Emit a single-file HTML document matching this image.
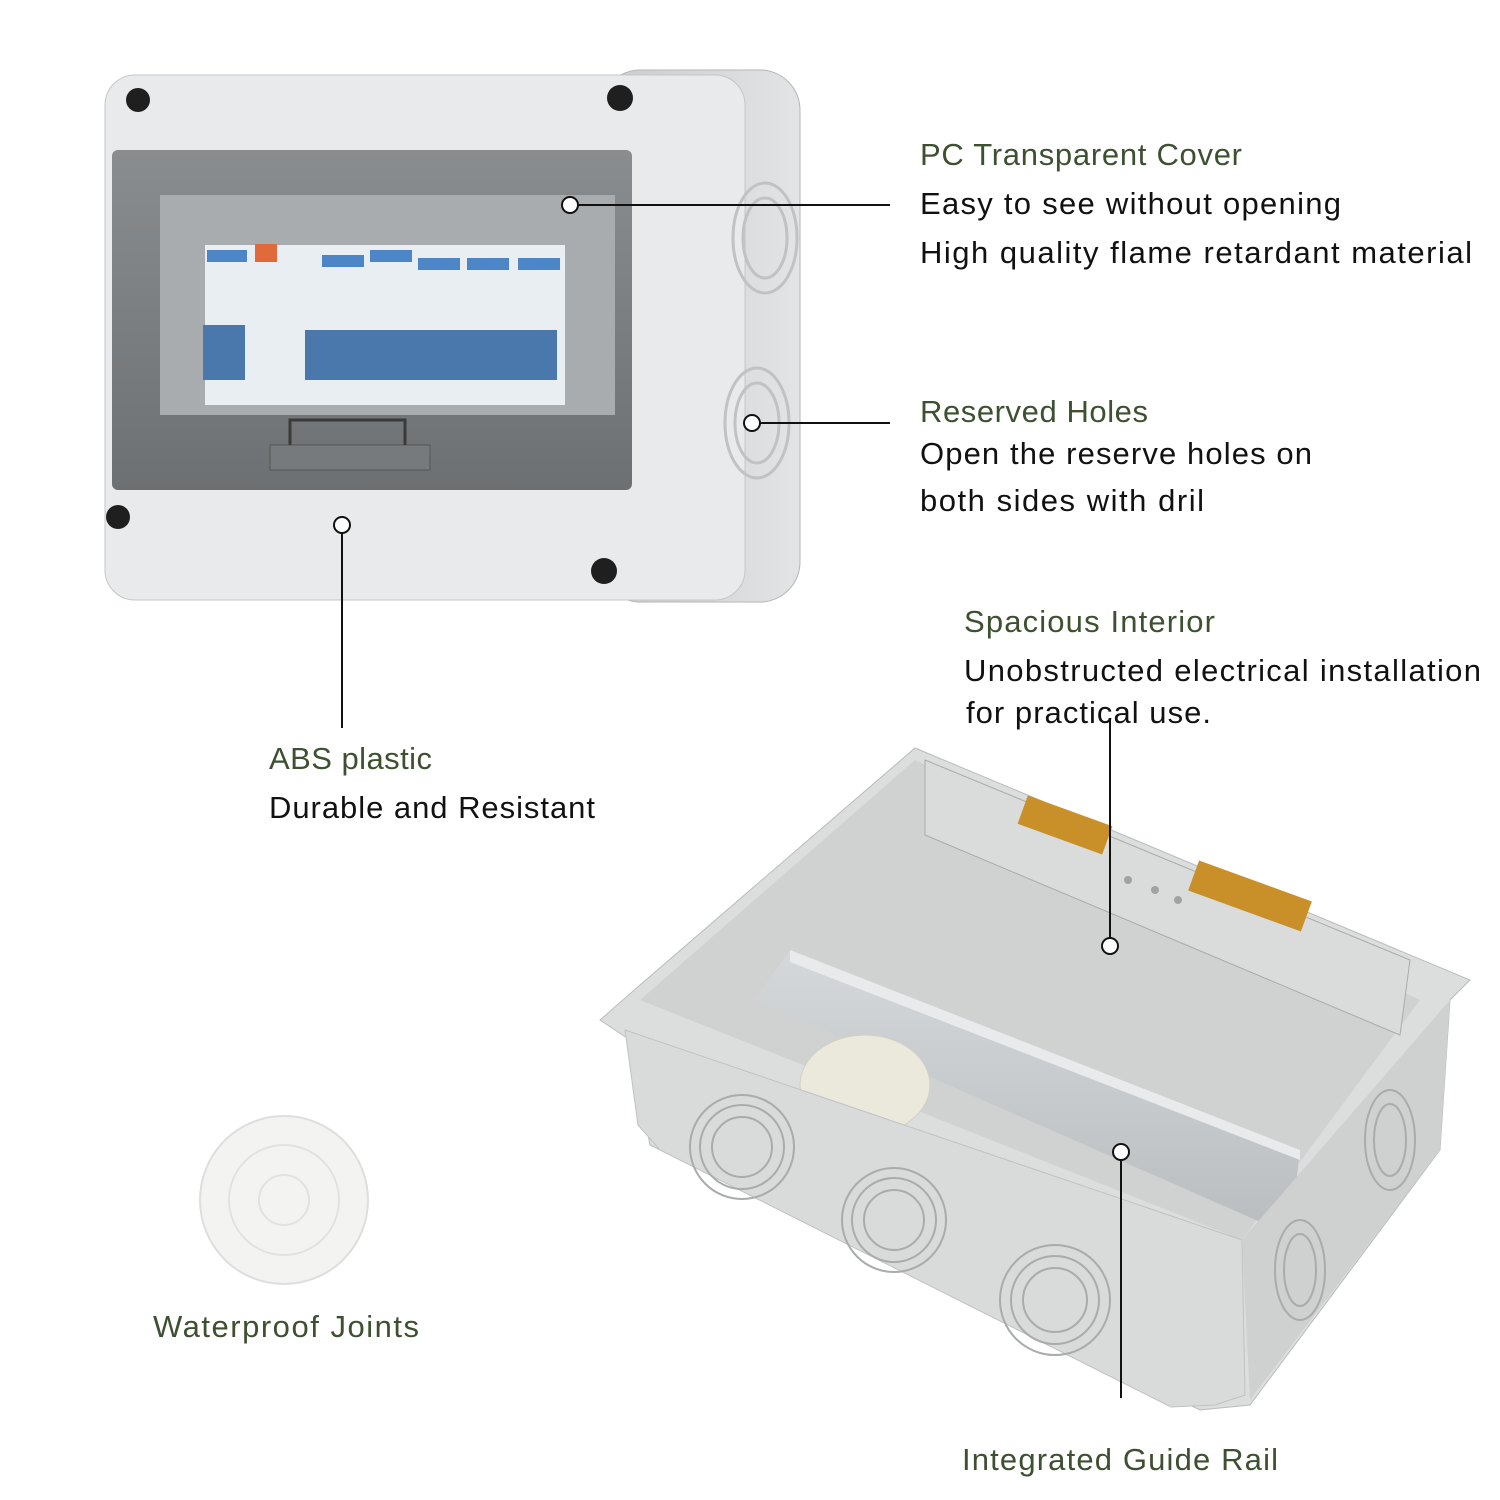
<!DOCTYPE html>
<html><head><meta charset="utf-8"><style>html,body{margin:0;padding:0;background:#fff}svg{display:block}</style></head>
<body>
<svg width="1500" height="1500" viewBox="0 0 1500 1500" xmlns="http://www.w3.org/2000/svg" font-family="Liberation Sans, DejaVu Sans, sans-serif">
<rect width="1500" height="1500" fill="#fff"/>
<defs>
<linearGradient id="side" x1="0" x2="1"><stop offset="0" stop-color="#c9cbcc"/><stop offset="1" stop-color="#e3e4e5"/></linearGradient>
<linearGradient id="win" x1="0" y1="0" x2="0" y2="1"><stop offset="0" stop-color="#8a8d8f"/><stop offset="1" stop-color="#6d7072"/></linearGradient>
<linearGradient id="rail" x1="0" y1="0" x2="0" y2="1"><stop offset="0" stop-color="#d5d8da"/><stop offset="1" stop-color="#b9bdc0"/></linearGradient>
</defs>
<!-- top box -->
<rect x="600" y="70" width="200" height="532" rx="40" fill="url(#side)" stroke="#b4b6b7"/>
<rect x="105" y="75" width="640" height="525" rx="30" fill="#e9eaeb" stroke="#c4c6c7"/>
<rect x="112" y="150" width="520" height="340" rx="6" fill="url(#win)"/>
<rect x="160" y="195" width="455" height="220" fill="#a9acae"/>
<rect x="205" y="245" width="360" height="160" fill="#e9eef2"/>
<g fill="#4a78ad">
<rect x="203" y="325" width="42" height="55"/><rect x="305" y="330" width="50" height="50"/><rect x="352" y="330" width="50" height="50"/><rect x="400" y="330" width="50" height="50"/><rect x="447" y="330" width="50" height="50"/><rect x="497" y="330" width="60" height="50"/>
</g>
<g fill="#4c86c6"><rect x="207" y="250" width="40" height="12"/><rect x="322" y="255" width="42" height="12"/><rect x="370" y="250" width="42" height="12"/><rect x="418" y="258" width="42" height="12"/><rect x="467" y="258" width="42" height="12"/><rect x="518" y="258" width="42" height="12"/></g>
<rect x="255" y="244" width="22" height="18" fill="#e06a3a"/>
<rect x="270" y="445" width="160" height="25" fill="#777a7c" stroke="#555"/>
<path d="M290 445 V420 H405 V445" fill="none" stroke="#3a3a3a" stroke-width="3"/>
<g fill="#1f1f1f"><circle cx="138" cy="100" r="12"/><circle cx="620" cy="98" r="13"/><circle cx="118" cy="517" r="12"/><circle cx="604" cy="571" r="13"/></g>
<g fill="none" stroke="#c0c2c3" stroke-width="3"><ellipse cx="765" cy="238" rx="32" ry="55"/><ellipse cx="765" cy="238" rx="22" ry="40"/><ellipse cx="757" cy="423" rx="32" ry="55"/><ellipse cx="757" cy="423" rx="22" ry="40"/></g>
<!-- bottom box -->
<polygon points="600,1020 640,985 915,748 1470,980 1450,1000 1440,1150 1250,1405 1200,1410 650,1145 630,1040" fill="#dcdddd" stroke="#b9bbbc"/>
<polygon points="640,1000 915,760 1420,1000 1242,1240" fill="#d0d1d1"/>
<polygon points="925,760 1410,960 1400,1035 925,835" fill="#dadcdc" stroke="#aaa"/>
<polygon points="755,1000 790,950 1300,1150 1290,1235" fill="url(#rail)"/>
<polygon points="790,950 1300,1150 1300,1160 790,962" fill="#e8eaeb"/>
<g fill="#c9902a"><rect x="1020" y="810" width="90" height="30" transform="rotate(20 1065 825)"/><rect x="1190" y="880" width="120" height="32" transform="rotate(20 1250 896)"/></g>
<g fill="#a0a2a3"><circle cx="1128" cy="880" r="4"/><circle cx="1155" cy="890" r="4"/><circle cx="1178" cy="900" r="4"/></g>
<ellipse cx="865" cy="1085" rx="65" ry="50" fill="#ebe8dc" stroke="#d2cfc2"/>
<polygon points="625,1030 1242,1240 1245,1395 1215,1405 1171,1407 660,1150 638,1125" fill="#d9dada" stroke="#c0c2c2"/>
<polygon points="1242,1240 1450,1000 1440,1150 1250,1400" fill="#cfd0d0"/>
<g fill="none" stroke="#a9abac" stroke-width="2">
<circle cx="742" cy="1147" r="52"/><circle cx="742" cy="1147" r="42"/><circle cx="742" cy="1147" r="30"/>
<circle cx="894" cy="1220" r="52"/><circle cx="894" cy="1220" r="42"/><circle cx="894" cy="1220" r="30"/>
<circle cx="1055" cy="1300" r="55"/><circle cx="1055" cy="1300" r="44"/><circle cx="1055" cy="1300" r="32"/>
<ellipse cx="1300" cy="1270" rx="25" ry="50"/><ellipse cx="1300" cy="1270" rx="16" ry="36"/>
<ellipse cx="1390" cy="1140" rx="25" ry="50"/><ellipse cx="1390" cy="1140" rx="16" ry="36"/></g>
<!-- waterproof joint -->
<circle cx="284" cy="1200" r="84" fill="#f3f3f1" stroke="#dedede" stroke-width="2"/>
<circle cx="284" cy="1200" r="55" fill="none" stroke="#e2e2de" stroke-width="2"/>
<circle cx="284" cy="1200" r="25" fill="none" stroke="#e2e2de" stroke-width="2"/>
<!-- connectors -->
<g stroke="#111" stroke-width="2" fill="none">
<line x1="570" y1="205" x2="890" y2="205"/><line x1="752" y1="423" x2="890" y2="423"/>
<line x1="342" y1="525" x2="342" y2="728"/><line x1="1110" y1="718" x2="1110" y2="946"/>
<line x1="1121" y1="1152" x2="1121" y2="1398"/></g>
<g fill="#fff" stroke="#111" stroke-width="2"><circle cx="570" cy="205" r="8"/><circle cx="752" cy="423" r="8"/><circle cx="342" cy="525" r="8"/><circle cx="1110" cy="946" r="8"/><circle cx="1121" cy="1152" r="8"/></g>
<!-- text -->
<g font-size="31" fill="#3d5030">
<text x="920" y="165" textLength="322">PC Transparent Cover</text>
<text x="920" y="422" textLength="228">Reserved Holes</text>
<text x="964" y="632" textLength="251">Spacious Interior</text>
<text x="269" y="769" textLength="163">ABS plastic</text>
<text x="153" y="1337" textLength="266">Waterproof Joints</text>
<text x="962" y="1470" textLength="316">Integrated Guide Rail</text>
</g>
<g font-size="31" fill="#111">
<text x="920" y="214" textLength="421">Easy to see without opening</text>
<text x="920" y="263" textLength="552">High quality flame retardant material</text>
<text x="920" y="464" textLength="392">Open the reserve holes on</text>
<text x="920" y="511" textLength="284">both sides with dril</text>
<text x="964" y="681" textLength="517">Unobstructed electrical installation</text>
<text x="966" y="723" textLength="245">for practical use.</text>
<text x="269" y="818" textLength="326">Durable and Resistant</text>
</g>
</svg>
</body></html>
